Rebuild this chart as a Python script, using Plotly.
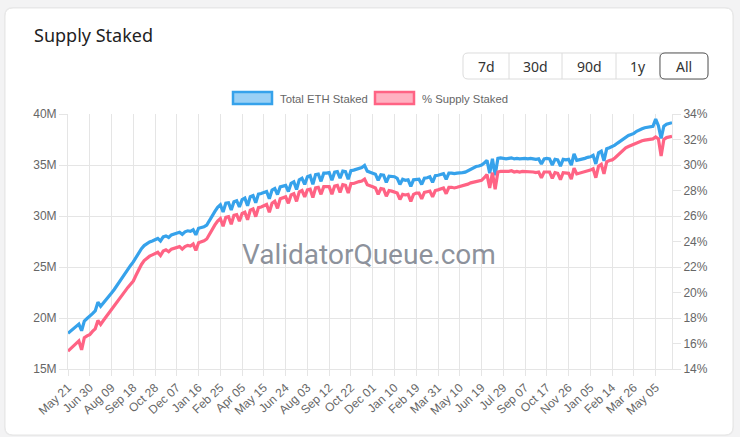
import pandas as pd
import plotly.graph_objects as go

# ---------------- data ----------------
start_date = "2023-05-21"
step_days = 5

# Total ETH staked (millions), one row = 40 days (8 samples, 5 days apart)
staked_m = [
    18.50, 18.72, 18.95, 19.15, 19.40, 18.75, 19.70, 19.95,
    20.15, 20.42, 20.70, 21.55, 21.15, 21.45, 21.75, 22.10,
    22.45, 22.80, 23.20, 23.60, 24.00, 24.45, 24.85, 25.15,
    25.50, 25.95, 26.40, 26.80, 27.10, 27.30, 27.45, 27.55,
    27.65, 27.80, 27.55, 27.95, 28.05, 27.90, 28.15, 28.25,
    28.30, 28.40, 28.20, 28.45, 28.55, 28.50, 28.65, 28.15,
    28.80, 28.85, 28.95, 29.10, 29.60, 30.00, 30.45, 30.85,
    31.10, 30.40, 31.25, 31.30, 30.60, 31.40, 31.50, 30.90,
    31.60, 31.75, 31.00, 31.90, 32.00, 31.30, 32.15, 32.20,
    32.30, 32.40, 31.70, 32.55, 32.70, 32.10, 32.85, 32.95,
    33.00, 32.40, 33.20, 33.35, 32.60, 33.55, 33.70, 33.10,
    33.85, 33.95, 33.10, 34.05, 34.10, 33.40, 34.20, 34.20,
    34.25, 33.50, 34.30, 34.35, 33.70, 34.40, 34.35, 33.60,
    34.45, 34.50, 34.60, 34.65, 34.75, 34.95, 34.40, 34.30,
    34.20, 34.10, 33.50, 34.05, 34.00, 33.30, 33.90, 33.85,
    33.85, 33.70, 33.10, 33.60, 33.50, 33.55, 32.90, 33.55,
    33.60, 33.60, 33.10, 33.70, 33.75, 33.85, 33.30, 33.95,
    34.00, 34.10, 34.15, 33.60, 34.20, 34.20, 34.15, 34.20,
    34.20, 34.25, 34.30, 34.45, 34.60, 34.70, 34.85, 34.90,
    35.00, 35.20, 35.45, 34.20, 35.60, 34.00, 35.65, 35.70,
    35.65, 35.60, 35.65, 35.70, 35.60, 35.65, 35.60, 35.65,
    35.65, 35.60, 35.65, 35.60, 35.55, 35.60, 35.10, 35.60,
    35.65, 35.60, 35.00, 35.55, 35.50, 34.90, 35.55, 35.50,
    35.55, 35.00, 36.10, 35.45, 35.50, 35.55, 35.65, 35.75,
    35.80, 35.95, 35.10, 36.20, 36.35, 35.40, 36.60, 36.70,
    36.80, 36.95, 37.15, 37.35, 37.55, 37.75, 37.90, 38.00,
    38.10, 38.30, 38.45, 38.55, 38.65, 38.70, 38.75, 38.80,
    39.50, 38.85, 37.60, 38.80, 39.00, 39.10, 39.15,
]

# % of supply staked
supply_pct = [
    15.40, 15.60, 15.80, 16.00, 16.20, 15.50, 16.45, 16.60,
    16.70, 16.95, 17.15, 17.80, 17.50, 17.80, 18.10, 18.40,
    18.65, 18.95, 19.25, 19.55, 19.85, 20.15, 20.40, 20.65,
    20.90, 21.35, 21.80, 22.20, 22.50, 22.70, 22.85, 22.95,
    23.05, 23.15, 22.90, 23.25, 23.35, 23.20, 23.40, 23.45,
    23.50, 23.60, 23.40, 23.60, 23.70, 23.65, 23.80, 23.30,
    23.90, 23.95, 24.05, 24.20, 24.60, 24.95, 25.30, 25.60,
    25.80, 25.20, 25.90, 25.95, 25.35, 26.05, 26.10, 25.60,
    26.20, 26.30, 25.70, 26.45, 26.55, 25.95, 26.65, 26.70,
    26.80, 26.90, 26.30, 27.00, 27.15, 26.60, 27.35, 27.40,
    27.50, 27.00, 27.65, 27.75, 27.15, 27.90, 28.00, 27.50,
    28.05, 28.10, 27.45, 28.20, 28.25, 27.70, 28.30, 28.30,
    28.30, 27.70, 28.35, 28.40, 27.85, 28.45, 28.40, 27.80,
    28.55, 28.55, 28.65, 28.70, 28.75, 28.90, 28.45, 28.40,
    28.30, 28.20, 27.70, 28.15, 28.10, 27.55, 28.00, 27.95,
    27.90, 27.80, 27.30, 27.70, 27.65, 27.70, 27.15, 27.70,
    27.80, 27.80, 27.35, 27.85, 27.90, 27.95, 27.50, 28.00,
    28.05, 28.15, 28.20, 27.75, 28.25, 28.25, 28.20, 28.25,
    28.30, 28.35, 28.40, 28.50, 28.60, 28.65, 28.75, 28.75,
    28.80, 29.00, 29.25, 28.20, 29.40, 28.10, 29.45, 29.50,
    29.50, 29.45, 29.50, 29.55, 29.45, 29.50, 29.45, 29.50,
    29.50, 29.45, 29.50, 29.45, 29.40, 29.45, 29.00, 29.45,
    29.45, 29.45, 28.95, 29.40, 29.35, 28.85, 29.40, 29.35,
    29.35, 28.90, 29.75, 29.30, 29.35, 29.40, 29.50, 29.55,
    29.60, 29.70, 29.00, 29.90, 30.05, 29.30, 30.25, 30.35,
    30.40, 30.55, 30.75, 30.95, 31.15, 31.35, 31.45, 31.55,
    31.60, 31.75, 31.85, 31.90, 31.95, 32.00, 32.00, 32.05,
    32.20, 32.05, 30.70, 32.00, 32.15, 32.20, 32.25,
]

tick_labels = ["May 21", "Jun 30", "Aug 09", "Sep 18", "Oct 28", "Dec 07", "Jan 16",
               "Feb 25", "Apr 05", "May 15", "Jun 24", "Aug 03", "Sep 12", "Oct 22",
               "Dec 01", "Jan 10", "Feb 19", "Mar 31", "May 10", "Jun 19", "Jul 29",
               "Sep 07", "Oct 17", "Nov 26", "Jan 05", "Feb 14", "Mar 26", "May 05"]
tick_step_days = 40

series_names = ["Total ETH Staked", "% Supply Staked"]
range_buttons = ["7d", "30d", "90d", "1y", "All"]
title_text = "Supply Staked"
watermark = "ValidatorQueue.com"

# ---------------- figure ----------------
dates = pd.date_range(start_date, periods=len(staked_m), freq=f"{step_days}D")
tickvals = pd.date_range(start_date, periods=len(tick_labels), freq=f"{tick_step_days}D")

BLUE = "#36A2EB"
RED = "#FF6384"
GRID = "#e5e5e5"
TXT = "#666666"
AXFONT = "Liberation Sans, Arial, sans-serif"

W, H = 740, 437
L, R, T, B = 68, 68, 114, 68
PW, PH = W - L - R, H - T - B


def px(x):
    return (x - L) / PW


def py(y):
    return (H - B - y) / PH


def rrect_path(x0, y0, x1, y1, r):
    pts = [
        ("M", [(x0 + r, y0)]),
        ("L", [(x1 - r, y0)]),
        ("Q", [(x1, y0), (x1, y0 + r)]),
        ("L", [(x1, y1 - r)]),
        ("Q", [(x1, y1), (x1 - r, y1)]),
        ("L", [(x0 + r, y1)]),
        ("Q", [(x0, y1), (x0, y1 - r)]),
        ("L", [(x0, y0 + r)]),
        ("Q", [(x0, y0), (x0 + r, y0)]),
    ]
    s = ""
    for cmd, ps in pts:
        s += cmd + " " + " ".join(f"{px(a):.5f},{py(b):.5f}" for a, b in ps) + " "
    return s + "Z"


fig = go.Figure()
fig.add_trace(go.Scatter(x=dates, y=staked_m, name=series_names[0], mode="lines",
                         line=dict(color=BLUE, width=3.2), yaxis="y", showlegend=False))
fig.add_trace(go.Scatter(x=dates, y=supply_pct, name=series_names[1], mode="lines",
                         line=dict(color=RED, width=3.2), yaxis="y2", showlegend=False))

shapes = []
# card shadow + card
shapes.append(dict(type="path", path=rrect_path(4, 7, 734, 436, 9), xref="paper", yref="paper",
                   fillcolor="rgba(0,0,0,0.03)", line=dict(width=0), layer="below"))
shapes.append(dict(type="path", path=rrect_path(5, 8, 733, 435, 8), xref="paper", yref="paper",
                   fillcolor="white", line=dict(color="#e6e6e6", width=1), layer="below"))

# legend boxes
shapes.append(dict(type="rect", xref="paper", yref="paper", x0=px(233), x1=px(272), y0=py(92), y1=py(104),
                   fillcolor="rgba(54,162,235,0.5)", line=dict(color=BLUE, width=2.5)))
shapes.append(dict(type="rect", xref="paper", yref="paper", x0=px(375), x1=px(414), y0=py(92), y1=py(104),
                   fillcolor="rgba(255,99,132,0.5)", line=dict(color=RED, width=2.5)))

# button group
btn_edges = [463, 509, 562, 616, 660, 708]
shapes.append(dict(type="path", path=rrect_path(463, 53, 708, 79, 5), xref="paper", yref="paper",
                   fillcolor="white", line=dict(color="#dcdcdc", width=1)))
for xe in btn_edges[1:-1]:
    shapes.append(dict(type="line", xref="paper", yref="paper", x0=px(xe), x1=px(xe), y0=py(53), y1=py(79),
                       line=dict(color="#dcdcdc", width=1)))
shapes.append(dict(type="path", path=rrect_path(660, 53, 708, 79, 5), xref="paper", yref="paper",
                   fillcolor="white", line=dict(color="#555555", width=1)))

annotations = []
annotations.append(dict(text=title_text, x=px(32), y=py(35), xref="paper", yref="paper",
                        xanchor="left", yanchor="middle", showarrow=False,
                        font=dict(family="Noto Sans", size=18, color="#222222")))
for i, lab in enumerate(range_buttons):
    cx = (btn_edges[i] + btn_edges[i + 1]) / 2
    annotations.append(dict(text=lab, x=px(cx), y=py(66), xref="paper", yref="paper",
                            xanchor="center", yanchor="middle", showarrow=False,
                            font=dict(family="Noto Sans", size=14, color="#333333")))
annotations.append(dict(text=series_names[0], x=px(278), y=py(98.5), xref="paper", yref="paper",
                        xanchor="left", yanchor="middle", showarrow=False,
                        font=dict(family=AXFONT, size=11.3, color=TXT)))
annotations.append(dict(text=series_names[1], x=px(420), y=py(98.5), xref="paper", yref="paper",
                        xanchor="left", yanchor="middle", showarrow=False,
                        font=dict(family=AXFONT, size=11.3, color=TXT)))
annotations.append(dict(text=watermark, x=px(369), y=py(254), xref="paper", yref="paper",
                        xanchor="center", yanchor="middle", showarrow=False,
                        font=dict(family="Roboto", size=28, color="rgba(120,126,138,0.85)")))

fig.update_layout(
    width=W, height=H,
    margin=dict(l=L, r=R, t=T, b=B, pad=0),
    paper_bgcolor="#f3f3f4",
    plot_bgcolor="rgba(0,0,0,0)",
    showlegend=False,
    hovermode=False,
    shapes=shapes,
    annotations=annotations,
    xaxis=dict(
        type="date",
        range=[dates[0], dates[-1]],
        tickmode="array", tickvals=tickvals, ticktext=tick_labels,
        tickangle=-43,
        showgrid=True, gridcolor=GRID, gridwidth=1,
        showline=True, linecolor=GRID, linewidth=1,
        ticks="outside", ticklen=6, tickcolor=GRID,
        tickfont=dict(family=AXFONT, size=12, color=TXT),
        zeroline=False,
    ),
    yaxis=dict(
        range=[15, 40], tickmode="linear", tick0=15, dtick=5, ticksuffix="M",
        showgrid=True, gridcolor=GRID, gridwidth=1,
        showline=True, linecolor=GRID, linewidth=1,
        ticks="outside", ticklen=8, tickcolor=GRID,
        tickfont=dict(family=AXFONT, size=12, color=TXT),
        zeroline=False,
    ),
    yaxis2=dict(
        range=[14, 34], tickmode="linear", tick0=14, dtick=2, ticksuffix="%",
        overlaying="y", side="right",
        showgrid=False,
        showline=True, linecolor=GRID, linewidth=1,
        ticks="outside", ticklen=8, tickcolor=GRID,
        tickfont=dict(family=AXFONT, size=12, color=TXT),
        zeroline=False,
    ),
)

fig.write_html("out.html", config={"displayModeBar": False})
